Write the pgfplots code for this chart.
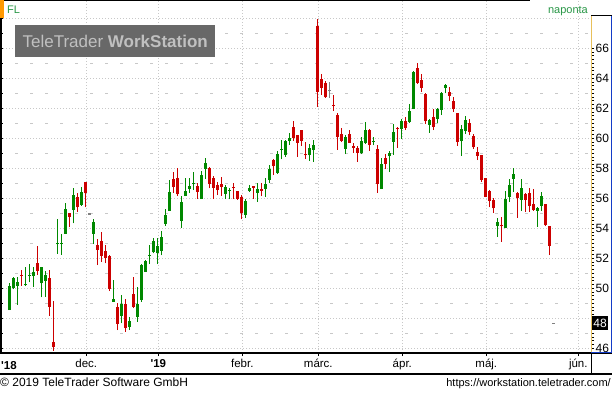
\documentclass[border=0pt]{standalone}
\usepackage{pgfplots}
\pgfplotsset{compat=1.18}
\usepackage{pgfplotstable}
\usepackage{fontspec}
\setmainfont{Liberation Sans}
\definecolor{cup}{RGB}{0,136,0}
\definecolor{cdn}{RGB}{204,0,0}
\definecolor{cfl}{RGB}{128,128,128}
\definecolor{gridc}{RGB}{200,200,200}
\definecolor{wmbg}{RGB}{104,104,104}
\definecolor{wmfg}{RGB}{192,192,192}
\definecolor{hdr}{RGB}{40,150,70}
\definecolor{orng}{RGB}{255,153,0}
\definecolor{yel}{RGB}{232,192,90}
\definecolor{blu}{RGB}{20,60,200}

% up candles: index open high low close
\pgfplotstableread{
i o h l c
0 48.55 50.37 48.55 50.15
1 50.00 50.77 49.93 50.67
2 50.18 50.77 48.89 50.44
4 50.20 51.44 50.15 50.27
5 50.85 51.60 50.40 50.92
6 50.82 51.42 50.11 51.09
8 50.33 51.44 49.40 51.40
9 50.51 51.18 49.44 50.89
12 52.93 54.62 52.31 53.00
13 52.98 53.60 52.25 53.05
14 53.64 55.67 53.64 55.29
16 55.22 56.66 54.33 56.22
18 55.57 56.77 55.50 56.40
21 53.64 54.62 52.95 54.44
26 49.09 50.55 49.09 49.27
28 48.17 49.55 47.67 48.95
30 47.44 48.11 47.22 47.82
32 48.11 50.11 47.77 48.95
33 49.22 51.62 49.11 51.55
34 51.11 51.89 51.11 51.82
35 52.17 52.89 51.62 52.24
36 52.40 53.33 52.33 53.15
37 52.33 53.33 51.62 52.82
38 52.50 53.80 52.20 53.40
39 54.29 55.27 54.15 54.89
40 55.17 57.22 55.17 56.44
43 54.51 56.15 54.04 55.77
44 56.15 57.33 56.15 56.49
45 56.62 57.37 56.37 56.82
46 56.95 57.73 56.55 57.02
48 55.95 57.84 55.95 57.55
49 57.95 58.66 57.27 58.37
54 56.29 56.89 55.95 56.77
55 56.48 56.66 55.93 56.55
59 54.91 55.97 54.71 55.84
60 56.51 56.89 56.42 56.69
62 56.37 57.00 55.77 56.60
64 56.64 57.35 56.11 56.95
65 57.22 58.24 57.00 57.97
67 57.67 59.17 57.62 58.95
68 59.24 59.91 58.60 59.31
69 58.91 59.89 58.77 59.84
70 59.84 60.33 59.57 60.02
75 58.87 59.62 58.49 59.33
76 59.22 59.89 58.44 59.55
84 59.29 60.22 58.95 60.11
88 59.00 60.11 58.95 59.82
89 59.67 61.08 59.62 60.55
91 59.76 60.11 59.53 59.83
93 56.62 58.69 56.62 58.29
95 58.82 59.15 57.75 59.00
96 59.77 60.95 58.89 60.41
98 60.62 61.28 59.95 61.15
100 61.09 62.29 61.02 61.82
101 61.97 64.49 61.97 64.42
105 60.89 61.28 60.37 61.22
107 61.31 62.02 61.02 61.95
108 61.89 63.09 61.55 63.00
109 63.35 63.62 63.00 63.55
113 59.80 60.90 58.85 60.60
114 60.50 61.50 60.30 61.20
122 54.15 54.66 53.44 54.42
124 54.00 56.51 54.00 55.93
125 56.07 57.29 55.77 56.89
126 57.31 58.00 56.44 57.62
128 55.89 57.29 55.17 56.66
132 55.17 55.44 54.11 55.35
133 55.51 56.40 55.17 56.15
}\upt

% down candles
\pgfplotstableread{
i o h l c
3 50.90 51.22 50.18 50.83
7 51.69 52.82 50.90 51.17
10 50.67 51.22 48.17 48.77
11 46.42 49.17 45.84 46.07
15 55.04 55.04 54.07 54.77
17 56.07 56.37 55.11 55.40
19 57.07 57.07 55.40 56.33
22 52.89 53.29 51.55 52.57
23 53.15 53.75 51.77 52.17
24 52.49 52.89 51.67 52.00
25 52.15 52.22 49.82 49.97
27 48.77 49.00 47.22 47.64
29 48.95 49.29 47.09 47.37
31 49.60 50.77 48.67 48.77
41 57.29 57.77 56.37 56.75
42 57.37 58.00 56.15 56.27
47 56.82 57.04 55.95 56.44
50 58.00 58.11 56.67 56.95
51 57.37 57.49 55.95 56.71
52 56.89 57.07 56.22 56.55
53 56.95 57.40 56.17 56.77
56 56.75 57.00 55.93 56.68
57 56.51 56.51 55.89 55.97
58 56.11 56.20 54.60 55.04
61 56.82 56.82 55.97 56.69
63 56.64 57.00 56.15 56.51
66 58.55 58.64 57.55 58.15
71 60.77 61.17 59.84 60.02
72 60.22 60.22 58.77 59.71
73 60.55 60.55 59.49 59.84
74 58.93 59.75 58.64 58.86
77 67.49 67.95 62.11 63.11
78 63.95 64.29 62.89 63.37
79 63.71 63.84 62.69 62.73
81 62.24 62.87 61.84 62.17
82 61.55 61.67 59.22 60.11
83 60.29 60.69 59.75 59.82
85 60.29 60.55 59.71 59.71
86 59.51 59.67 59.04 59.37
87 59.33 59.51 58.42 59.04
90 60.55 60.62 59.17 59.55
92 59.29 59.55 56.37 56.95
94 58.69 58.95 57.95 58.29
97 60.69 60.73 59.37 60.62
99 61.15 61.44 60.55 60.71
102 64.66 65.02 63.62 63.71
103 63.89 64.29 63.11 63.37
104 62.95 63.02 60.95 61.15
106 61.42 61.95 60.55 60.77
110 63.09 63.39 62.51 62.82
111 62.49 62.73 61.75 61.93
112 61.66 61.66 59.51 59.77
115 61.00 61.30 60.20 60.40
116 60.15 60.30 59.27 59.40
117 59.06 59.44 58.55 58.84
118 58.89 58.89 57.07 57.22
119 57.37 57.37 56.07 56.11
120 56.49 56.55 55.40 55.84
121 55.89 56.00 55.04 55.33
123 54.22 54.73 53.11 54.15
127 56.37 56.44 54.71 56.04
129 56.29 56.33 55.09 55.89
130 56.33 56.66 55.11 55.49
131 55.62 56.62 55.17 55.22
134 55.62 55.62 54.15 54.22
135 54.15 54.15 52.22 52.84
}\dnt

% unchanged (grey) candles
\pgfplotstableread{
i o h l c
20 54.92 54.92 54.92 54.99
80 63.12 63.75 62.69 63.19
136 47.64 47.64 47.64 47.71
}\flt

\pgfplotsset{
  base/.style={at={(0bp,391bp)}, anchor=north west, scale only axis,
    width=591bp, height=352bp,
    xmin=-2.325, xmax=145.425, ymin=45.687, ymax=69.153},
  wick/.style={draw=none, mark=none, forget plot,
    error bars/.cd, y dir=plus, y explicit, error mark=none,
    error bar style={draw=#1, line width=1bp, solid}},
  body/.style={draw=none, mark=none, forget plot,
    error bars/.cd, y dir=plus, y explicit, error mark=none,
    error bar style={draw=#1, line width=3.2bp, solid}},
}

\begin{document}
\begin{tikzpicture}[x=1bp,y=1bp]
\path[use as bounding box] (0,0) rectangle (612,392);

% main plot: grid and candles
\begin{axis}[base,
  axis line style={draw=none}, tick style={draw=none},
  xtick={19.25,37.25,58.25,77.25,98.25,119.25,142.25}, xticklabels={},
  ytick={46,48,...,68}, yticklabels={},
  extra y ticks={47,49,...,67}, extra y tick labels={},
  extra y tick style={grid=major, major grid style={gridc, line width=0.9bp, dash pattern=on 3.3bp off 11.7bp}},
  grid=major, major grid style={gridc, line width=0.9bp, dash pattern=on 1bp off 2bp},
]
\addplot[wick=cup] table[x=i, y=l, y error expr=\thisrow{h}-\thisrow{l}] {\upt};
\addplot[body=cup] table[x=i, y=o, y error expr=\thisrow{c}-\thisrow{o}] {\upt};
\addplot[wick=cdn] table[x=i, y=l, y error expr=\thisrow{h}-\thisrow{l}] {\dnt};
\addplot[body=cdn] table[x=i, y=c, y error expr=\thisrow{o}-\thisrow{c}] {\dnt};
\addplot[wick=cfl] table[x=i, y=l, y error expr=\thisrow{h}-\thisrow{l}] {\flt};
\addplot[body=cfl] table[x=i, y=o, y error expr=\thisrow{c}-\thisrow{o}] {\flt};
\end{axis}

% left ticks
\begin{axis}[base,
  axis x line=none, axis y line*=left, y axis line style={draw=none},
  ytick={46,47,...,69}, minor y tick num=3, yticklabels={},
  tick align=inside, major tick length=3bp, minor tick length=2bp,
  tick style={black, line width=0.8bp}]
\end{axis}

% right ticks with labels, bottom ticks with labels
\begin{axis}[base,
  axis x line*=bottom, axis y line*=right,
  x axis line style={draw=none}, y axis line style={draw=none},
  tick align=outside, major tick length=3bp, minor tick length=3bp,
  tick style={black, line width=0.8bp},
  ytick={46,48,...,66}, minor y tick num=7,
  yticklabels={46,,50,52,54,56,58,60,62,64,66},
  xtick={19.25,37.25,58.25,77.25,98.25,119.25,142.25}, minor x tick num=0,
  xticklabels={dec.,\textbf{\textquotesingle19},febr.,márc.,ápr.,máj.,jún.},
  yticklabel style={font=\fontsize{12bp}{14bp}\selectfont, inner sep=1.5bp},
  xticklabel style={font=\fontsize{11.5bp}{14bp}\selectfont, inner sep=0pt, text height=9bp, text depth=2.5bp, yshift=-2bp},
]
\end{axis}

% frame lines
\draw[black, line width=1.5bp] (0.75,39) -- (0.75,392);
\draw[black, line width=1.5bp] (0,391.25) -- (530,391.25);
\draw[black, line width=1.5bp] (0,39) -- (612,39);
\draw[black, line width=1.5bp] (0,18) -- (612,18);
\draw[black, line width=1bp] (591,18) -- (591,39);
\draw[black, line width=1bp] (591,376) -- (612,376);
\draw[yel, line width=1bp] (591,39.5) -- (591,376);
\draw[blu, line width=1.2bp] (611.4,39.5) -- (611.4,376);
\draw[blu, line width=1bp] (591,40) -- (612,40);

% last value marker
\node[fill=black, text=white, inner sep=1bp, minimum width=16bp, minimum height=14bp,
  font=\fontsize{12bp}{14bp}\selectfont] at (600,68.7) {48};

% header
\fill[orng] (0,374) rectangle (4,392);
\node[anchor=base west, text=hdr, inner sep=0pt, font=\fontsize{11bp}{13bp}\selectfont] at (7,379) {FL};
\node[anchor=base east, text=hdr, inner sep=0pt, font=\fontsize{11bp}{13bp}\selectfont] at (588,379) {naponta};

% watermark
\node[anchor=north west, fill=wmbg, text=wmfg, minimum width=200bp, minimum height=32bp, inner sep=0pt,
  font=\fontsize{17bp}{18bp}\selectfont] at (15,367) {TeleTrader \textbf{WorkStation}};

% x label at origin
\node[anchor=base west, inner sep=0pt, font=\fontsize{11.5bp}{14bp}\selectfont\bfseries] at (1,23) {\textquotesingle18};

% footer
\node[anchor=base west, inner sep=0pt, font=\fontsize{12bp}{14bp}\selectfont] at (0,5.3) {© 2019 TeleTrader Software GmbH};
\node[anchor=base east, inner sep=0pt, font=\fontsize{11bp}{14bp}\selectfont] at (611,5.3) {https://workstation.teletrader.com/};
\end{tikzpicture}
\end{document}
